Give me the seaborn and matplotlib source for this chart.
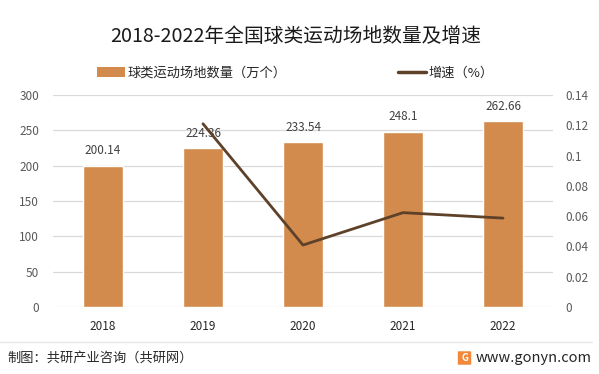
import numpy as np
import pandas as pd
import seaborn as sns
from matplotlib import pyplot as plt
from matplotlib.patches import Patch, FancyBboxPatch
from matplotlib.lines import Line2D

# Datos
years = ["2018", "2019", "2020", "2021", "2022"]
venues = [200.14, 224.36, 233.54, 248.1, 262.66]
growth = [np.nan, 0.1210, 0.0409, 0.0623, 0.0587]
left_ticks = [0, 50, 100, 150, 200, 250, 300]
right_ticks = [0, 0.02, 0.04, 0.06, 0.08, 0.1, 0.12, 0.14]
right_labels = ["0", "0.02", "0.04", "0.06", "0.08", "0.1", "0.12", "0.14"]

bar_color = "#D38B4D"
line_color = "#5E4129"
text_color = "#404040"
tick_color = "#595959"

sns.set_theme(style="white")
plt.rcParams['font.family'] = ['Noto Sans CJK SC', 'DejaVu Sans']

df = pd.DataFrame({"year": years, "venues": venues, "growth": growth,
                   "pos": np.arange(len(years))})

fig = plt.figure(figsize=(5.99, 3.74), dpi=100)
ax = fig.add_axes([53 / 599, 1 - 307 / 374, 500 / 599, 212 / 374])

# Barras
sns.barplot(data=df, x="year", y="venues", color=bar_color, saturation=1,
            width=0.4, ax=ax, zorder=2)
ax.set_xlim(-0.5, 4.5)
ax.set_ylim(0, 300)
ax.set_yticks(left_ticks)
ax.yaxis.grid(True, color="#D9D9D9", linewidth=0.9, zorder=0)
ax.set_axisbelow(True)
for s in ax.spines.values():
    s.set_visible(False)
ax.set_xlabel("")
ax.set_ylabel("")
ax.tick_params(axis="x", length=0, labelsize=8.5, labelcolor="#262626", pad=9)
ax.tick_params(axis="y", length=0, labelsize=8.5, labelcolor=tick_color, pad=10)

for i, v in enumerate(venues):
    ax.annotate(f"{v:g}", (i, v), xytext=(0, 6), textcoords="offset points",
                ha="center", va="bottom", fontsize=8.5, color=text_color)

# Línea de crecimiento en el eje secundario
ax2 = ax.twinx()
sns.lineplot(data=df.dropna(), x="pos", y="growth", color=line_color,
             linewidth=2, ax=ax2)
ax2.set_ylim(0, 0.14)
ax2.set_yticks(right_ticks)
ax2.set_yticklabels(right_labels)
ax2.set_xlim(-0.5, 4.5)
for s in ax2.spines.values():
    s.set_visible(False)
ax2.set_ylabel("")
ax2.set_xlabel("")
ax2.tick_params(axis="y", length=0, labelsize=8.5, labelcolor=tick_color, pad=9)

# Título
fig.text(0.493, 1 - 36 / 374, "2018-2022年全国球类运动场地数量及增速",
         ha="center", va="center", fontsize=14.2, color="#1a1a1a")

# Leyenda
handles = [Patch(facecolor=bar_color, edgecolor="none"),
           Line2D([0], [0], color=line_color, linewidth=2.5)]
fig.legend(handles, ["球类运动场地数量（万个）", "增速（%）"], loc="center",
           bbox_to_anchor=(0.493, 1 - 73 / 374), ncol=2, frameon=False,
           fontsize=9.5, handlelength=2.1, handletextpad=0.2,
           columnspacing=8.5, labelcolor="#262626")

# Pie de figura
fig.add_artist(Line2D([0, 592 / 599], [1 - 342 / 374, 1 - 342 / 374],
                      color="#E6E6E6", linewidth=1, transform=fig.transFigure))
fig.text(7 / 599, 1 - 358 / 374, "制图：共研产业咨询（共研网）", ha="left",
         va="center", fontsize=9.5, color="#262626")
fig.add_artist(FancyBboxPatch((459 / 599, 1 - 364 / 374), 11 / 599, 12 / 374,
                              boxstyle="round,pad=0.002", facecolor="#F2883A",
                              edgecolor="none", transform=fig.transFigure))
fig.text(464.5 / 599, 1 - 358 / 374, "G", ha="center", va="center",
         fontsize=7, color="white", fontweight="bold")
fig.text(592 / 599, 1 - 358 / 374, "www.gonyn.com", ha="right", va="center",
         fontsize=10.5, color="#262626")

fig.savefig("out.png", dpi=100)
